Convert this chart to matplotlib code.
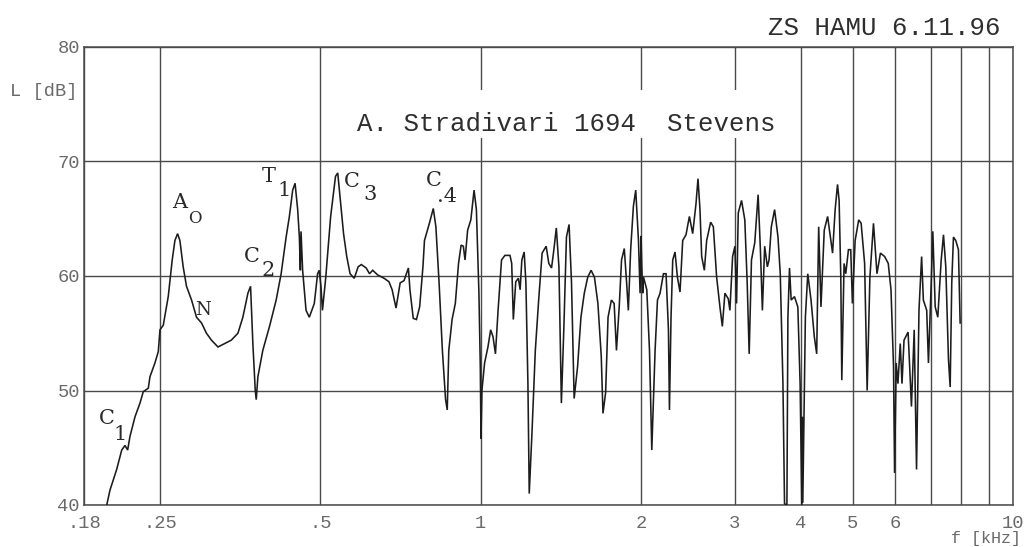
import matplotlib
matplotlib.use("Agg")
import matplotlib.pyplot as plt
from matplotlib.ticker import FixedLocator, NullFormatter
from matplotlib.patches import Rectangle

# frequency in kHz, level in dB
freq_khz = [
    0.1986, 0.2014, 0.2073, 0.2119, 0.2149, 0.2174, 0.2196, 0.2244, 0.2293, 0.2326,
    0.2377, 0.2394, 0.2446, 0.2482, 0.2500, 0.2536, 0.2591, 0.2636, 0.2667, 0.2698,
    0.2725, 0.2764, 0.2804, 0.2866, 0.2928, 0.2992, 0.3057, 0.3123, 0.3213, 0.3307,
    0.3404, 0.3502, 0.3578, 0.3657, 0.3699, 0.3736, 0.3775, 0.3791, 0.3818, 0.3900,
    0.4015, 0.4132, 0.4222, 0.4314, 0.4375, 0.4438, 0.4484, 0.4535, 0.4568, 0.4588,
    0.4601, 0.4633, 0.4702, 0.4769, 0.4873, 0.4943, 0.4978, 0.5015, 0.5048, 0.5121,
    0.5230, 0.5341, 0.5393, 0.5454, 0.5530, 0.5607, 0.5688, 0.5792, 0.5890, 0.5972,
    0.6099, 0.6187, 0.6273, 0.6406, 0.6589, 0.6730, 0.6823, 0.6939, 0.7064, 0.7184,
    0.7320, 0.7369, 0.7475, 0.7579, 0.7685, 0.7795, 0.7847, 0.8015, 0.8152, 0.8244,
    0.8359, 0.8479, 0.8597, 0.8659, 0.8717, 0.8842, 0.8967, 0.9092, 0.9195, 0.9284,
    0.9351, 0.9457, 0.9589, 0.9724, 0.9822, 0.9931, 0.9990, 1.0020, 1.0060, 1.0177,
    1.0325, 1.0448, 1.0554, 1.0666, 1.0788, 1.0950, 1.1112, 1.1358, 1.1443, 1.1523,
    1.1645, 1.1779, 1.1867, 1.1956, 1.2077, 1.2167, 1.2274, 1.2344, 1.2491, 1.2673,
    1.2858, 1.3051, 1.3282, 1.3434, 1.3594, 1.3732, 1.3877, 1.4036, 1.4185, 1.4347,
    1.4499, 1.4665, 1.4820, 1.4990, 1.5215, 1.5437, 1.5663, 1.5898, 1.6130, 1.6365,
    1.6612, 1.6854, 1.6980, 1.7175, 1.7357, 1.7610, 1.7820, 1.8000, 1.8215, 1.8400,
    1.8619, 1.8808, 1.8948, 1.9140, 1.9368, 1.9564, 1.9797, 1.9936, 2.0020, 2.0086,
    2.0160, 2.0234, 2.0523, 2.0764, 2.0971, 2.1272, 2.1493, 2.1735, 2.2056, 2.2305,
    2.2537, 2.2635, 2.2791, 2.2959, 2.3188, 2.3429, 2.3693, 2.3971, 2.4315, 2.4674,
    2.5028, 2.5388, 2.5608, 2.5830, 2.6020, 2.6325, 2.6587, 2.7050, 2.7367, 2.7760,
    2.8158, 2.8451, 2.8772, 2.9197, 2.9399, 2.9743, 3.0039, 3.0258, 3.0480, 3.0915,
    3.1356, 3.1681, 3.1954, 3.2272, 3.2732, 3.3213, 3.3543, 3.3832, 3.4168, 3.4566,
    3.4819, 3.5165, 3.5667, 3.6192, 3.6551, 3.6977, 3.7232, 3.7617, 3.7779, 3.8040,
    3.8318, 3.8866, 3.9437, 3.9828, 4.0120, 4.0200, 4.0292, 4.0745, 4.1167, 4.1753,
    4.2349, 4.2788, 4.3156, 4.3586, 4.4208, 4.4857, 4.5829, 4.6343, 4.6823, 4.7145,
    4.7490, 4.7694, 4.8168, 4.8520, 4.9085, 4.9572, 4.9935, 5.0525, 5.1315, 5.1856,
    5.2642, 5.3222, 5.3857, 5.4699, 5.5529, 5.6370, 5.7408, 5.8306, 5.9000, 5.9650,
    5.9923, 6.0343, 6.0796, 6.1415, 6.1876, 6.2422, 6.3530, 6.4459, 6.5229, 6.5892,
    6.6592, 6.7358, 6.7864, 6.8856, 6.9375, 7.0211, 7.0697, 7.1432, 7.2237, 7.3307,
    7.4038, 7.4776, 7.5651, 7.6207, 7.6733, 7.7297, 7.8068, 7.8981, 7.9561,
]
level_db = [
    40.0, 41.3, 43.1, 44.8, 45.2, 44.8, 46.0, 47.7, 48.9, 49.9,
    50.2, 51.2, 52.4, 53.4, 55.3, 55.7, 58.2, 61.4, 63.1, 63.7,
    63.1, 60.8, 59.1, 57.9, 56.4, 55.9, 55.0, 54.4, 53.8, 54.1,
    54.4, 55.0, 56.4, 58.5, 59.1, 54.1, 50.0, 49.2, 51.2, 53.5,
    55.6, 57.9, 60.2, 63.4, 65.2, 67.5, 68.1, 65.8, 63.4, 60.5,
    63.9, 60.5, 57.0, 56.4, 57.6, 60.2, 60.5, 59.1, 57.0, 59.9,
    65.2, 68.7, 69.0, 66.6, 63.7, 61.7, 60.2, 59.8, 60.8, 61.0,
    60.7, 60.2, 60.5, 60.1, 59.8, 59.5, 58.8, 57.2, 59.4, 59.6,
    60.7, 58.8, 56.3, 56.2, 57.3, 60.8, 63.1, 64.6, 65.9, 64.3,
    59.4, 53.5, 49.2, 48.3, 53.5, 56.2, 57.6, 61.1, 62.7, 62.6,
    61.4, 64.0, 64.9, 67.5, 65.8, 58.5, 52.0, 45.8, 50.0, 52.4,
    53.8, 55.3, 54.7, 53.2, 57.0, 61.4, 61.8, 61.8, 61.1, 56.2,
    59.5, 59.8, 58.8, 61.4, 62.1, 59.4, 50.6, 41.0, 46.3, 53.5,
    57.9, 62.0, 62.6, 61.1, 60.7, 62.3, 64.2, 60.8, 48.9, 55.9,
    63.4, 64.5, 59.4, 49.3, 52.1, 56.4, 58.5, 59.9, 60.5, 59.9,
    57.6, 53.0, 48.0, 49.8, 56.4, 57.9, 57.6, 53.5, 57.3, 61.4,
    62.4, 59.4, 57.0, 62.3, 66.1, 67.5, 63.1, 58.5, 63.5, 60.8,
    58.5, 59.9, 58.8, 53.5, 44.8, 53.5, 57.9, 58.5, 60.2, 60.2,
    55.3, 48.3, 56.4, 61.4, 62.1, 59.9, 58.6, 63.1, 63.6, 65.2,
    63.7, 66.3, 68.5, 65.8, 61.7, 60.5, 63.1, 64.7, 64.3, 59.9,
    57.3, 55.6, 58.5, 58.0, 57.0, 61.7, 62.6, 57.6, 65.5, 66.6,
    64.9, 59.4, 53.2, 61.4, 62.9, 67.1, 62.3, 57.0, 62.6, 60.8,
    61.4, 64.3, 65.8, 63.4, 60.2, 50.6, 40.1, 40.0, 56.4, 60.7,
    57.9, 58.2, 57.3, 50.6, 40.0, 47.7, 40.2, 56.4, 60.2, 57.9,
    54.7, 53.2, 64.3, 57.3, 64.0, 65.2, 62.0, 65.8, 68.0, 66.6,
    59.9, 50.9, 61.1, 60.2, 62.3, 62.3, 57.6, 63.1, 64.9, 64.6,
    61.1, 50.0, 59.9, 64.6, 60.2, 62.0, 61.7, 61.1, 58.8, 52.1,
    42.8, 52.4, 50.6, 54.1, 50.6, 54.4, 55.1, 48.6, 55.3, 43.1,
    57.0, 61.7, 57.9, 57.0, 52.4, 59.4, 63.9, 57.3, 56.4, 61.4,
    63.6, 60.8, 52.7, 50.3, 59.4, 63.4, 63.1, 62.3, 55.9,
]

xtick_vals = [0.18, 0.25, 0.5, 1, 2, 3, 4, 5, 6, 10]
xtick_labels = [".18", ".25", ".5", "1", "2", "3", "4", "5", "6", "10"]
xgrid_extra = [7, 8, 9]
ytick_vals = [40, 50, 60, 70, 80]
ytick_labels = ["40", "50", "60", "70", "80"]

W, H = 1026, 547
fig = plt.figure(figsize=(W / 100, H / 100), dpi=100)
fig.patch.set_facecolor("white")
ax = fig.add_axes([84 / W, 1 - 505 / H, 929 / W, 458 / H])

grid_c = "#4a4a4a"
ax.plot(freq_khz, level_db, color="#1c1c1c", lw=1.15, zorder=3, solid_joinstyle="miter")
ax.set_xscale("log")
ax.set_xlim(0.18, 10)
ax.set_ylim(40, 80)

ax.xaxis.set_major_locator(FixedLocator(xtick_vals))
ax.set_xticklabels(xtick_labels)
ax.xaxis.set_minor_locator(FixedLocator(xgrid_extra))
ax.xaxis.set_minor_formatter(NullFormatter())
ax.set_yticks(ytick_vals)
ax.set_yticklabels(ytick_labels)

ax.grid(True, which="both", axis="x", color=grid_c, lw=1.0, zorder=1)
ax.grid(True, which="major", axis="y", color=grid_c, lw=1.0, zorder=1)
ax.set_axisbelow(True)
for s in ax.spines.values():
    s.set_color(grid_c)
    s.set_linewidth(1.1)

tick_font = dict(family="Liberation Mono", size=13.5, color="#6a6a6a")
ax.tick_params(which="both", length=0)
ax.tick_params(axis="x", pad=7)
ax.tick_params(axis="y", pad=3)
for lab in ax.get_xticklabels() + ax.get_yticklabels():
    lab.set_fontfamily(tick_font["family"])
    lab.set_fontsize(tick_font["size"])
    lab.set_color(tick_font["color"])

# white area behind the inner title (interrupts grid lines as on the original)
ax.add_patch(Rectangle(((340 - 84) / 929, (505 - 138) / 458), (790 - 340) / 929, 48 / 458,
                       transform=ax.transAxes, facecolor="white", edgecolor="none", zorder=2))

mono = "Liberation Mono"
fig.text(1000 / W, 1 - 28 / H, "ZS HAMU 6.11.96", ha="right", va="center",
         family=mono, size=18.5, color="#2e2e2e")
fig.text(566 / W, 1 - 124 / H, "A. Stradivari 1694  Stevens", ha="center", va="center",
         family=mono, size=18.5, color="#2e2e2e", zorder=5)
fig.text(10 / W, 1 - 91 / H, "L [dB]", ha="left", va="center", **tick_font)
fig.text(1021 / W, 1 - 538 / H, "f [kHz]", ha="right", va="center",
         family=mono, size=12, color="#6a6a6a")

lab_kw = dict(ha="center", va="center", family="DejaVu Serif", color="#2a2a2a")
labels = [
    ("C", 107, 418, 15), ("1", 120, 434, 15),
    ("A", 180, 203, 15), ("O", 195, 218, 12),
    ("N", 203, 310, 13),
    ("C", 252, 256, 15), ("2", 268, 270, 15),
    ("T", 269, 177, 15), ("1", 284, 190, 15),
    ("C", 352, 181, 15), ("3", 370, 194, 15),
    ("C", 434, 180, 15), (".4", 447, 196, 15),
]
for t, px, py, sz in labels:
    fig.text(px / W, 1 - py / H, t, size=sz, **lab_kw)

fig.savefig("out.png", dpi=100, facecolor="white")
